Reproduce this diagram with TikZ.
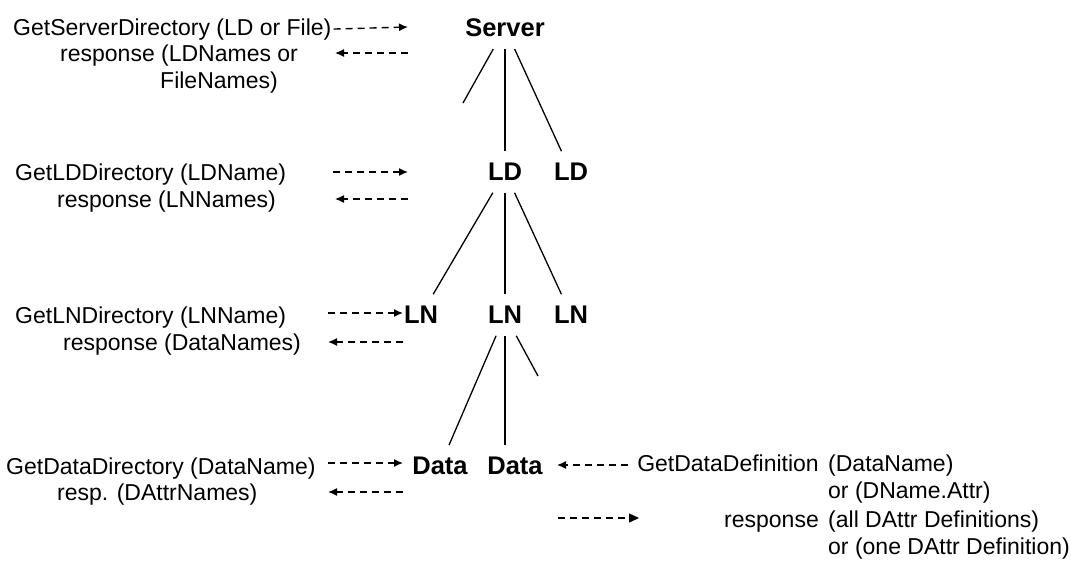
\documentclass[tikz,border=0pt]{standalone}
\usepackage{fontspec}
\setmainfont{Liberation Sans}
\usepackage{tikz}
\usetikzlibrary{arrows.meta}
\tikzset{
lbl/.style={anchor=base west, inner sep=0pt, font=\fontsize{23}{26}\selectfont},
lblr/.style={anchor=base east, inner sep=0pt, font=\fontsize{23}{26}\selectfont},
treenode/.style={inner sep=0pt, outer sep=12pt, font=\fontsize{25.5}{28}\selectfont\bfseries},
branch/.style={line width=1.3pt},
call/.style={line width=1.4pt, dash pattern=on 7pt off 5pt, -{Latex[length=9pt,width=8pt]}},
fwd/.style={line width=1.4pt, dash pattern=on 7pt off 5pt, -{Triangle[length=10pt,width=9pt]}}
}

\begin{document}
\begin{tikzpicture}[x=1pt,y=-1pt]
    \useasboundingbox (0,0) rectangle (1071,560);

    % tree
    \node[treenode] (srv) at (505,28) {Server};
    \node[treenode] (ld1) at (505,172) {LD};
    \node[treenode] (ld2) at (571,172) {LD};
    \node[treenode] (ln1) at (421,315) {LN};
    \node[treenode] (ln2) at (505,315) {LN};
    \node[treenode] (ln3) at (571,315) {LN};
    \node[treenode] (data1) at (440,466) {Data};
    \node[treenode] (data2) at (515,466) {Data};
    \coordinate (srvleft) at (463,103);
    \coordinate (lnright) at (538,376);

    \draw[branch] (srv) -- (srvleft);
    \draw[branch] (srv) -- (ld1);
    \draw[branch] (srv) -- (ld2);
    \draw[branch] (ld1) -- (ln1);
    \draw[branch] (ld1) -- (ln2);
    \draw[branch] (ld1) -- (ln3);
    \draw[branch] (ln2) -- (data1);
    \draw[branch] (ln2) -- (ln2 |- data2.north);
    \draw[branch] (ln2) -- (lnright);

    % requests and responses
    \node[lbl] (gsd) at (13,35) {GetServerDirectory (LD or File)};
    \node[lbl] (rsd) at (60,61) {response (LDNames or};
    \node[lbl] (rsd2) at (160,88) {FileNames)};
    \node[lbl] (gld) at (15,180) {GetLDDirectory (LDName)};
    \node[lbl] (rld) at (57,207) {response (LNNames)};
    \node[lbl] (gln) at (15,323) {GetLNDirectory (LNName)};
    \node[lbl] (rln) at (63,350) {response (DataNames)};
    \node[lbl] (gdd) at (6,474) {GetDataDirectory (DataName)};
    \node[lbl] (rdd) at (57,500) {resp. (DAttrNames)};

    \node[lblr] (gdef) at (819,471) {GetDataDefinition};
    \node[lbl] (gdef1) at (828,471) {(DataName)};
    \node[lbl] (gdef2) at (828,498) {or (DName.Attr)};
    \node[lblr] (rdef) at (819,527) {response};
    \node[lbl] (rdef1) at (828,527) {(all DAttr Definitions)};
    \node[lbl] (rdef2) at (828,554) {or (one DAttr Definition)};

    \coordinate (a1) at (408,27);
    \coordinate (b1) at (408,53);
    \coordinate (b1e) at (335,53);
    \coordinate (a2s) at (333,172);
    \coordinate (a2) at (408,172);
    \coordinate (b2) at (408,199);
    \coordinate (b2e) at (335,199);
    \coordinate (a3s) at (328,313);
    \coordinate (a3) at (403,313);
    \coordinate (b3) at (403,342);
    \coordinate (b3e) at (328,342);
    \coordinate (a4s) at (328,463);
    \coordinate (a4) at (403,463);
    \coordinate (b4) at (403,492);
    \coordinate (b4e) at (328,492);
    \coordinate (c4s) at (628,465);
    \coordinate (c4) at (557,465);
    \coordinate (d4s) at (558,518);
    \coordinate (d4) at (639,518);

    \draw[call] (gsd.east) ++(2,0) -- (a1);
    \draw[call] (b1) -- (b1e);
    \draw[call] (a2s) -- (a2);
    \draw[call] (b2) -- (b2e);
    \draw[call] (a3s) -- (a3);
    \draw[call] (b3) -- (b3e);
    \draw[call] (a4s) -- (a4);
    \draw[call] (b4) -- (b4e);
    \draw[call] (c4s) -- (c4);
    \draw[fwd] (d4s) -- (d4);

\end{tikzpicture}
\end{document}
